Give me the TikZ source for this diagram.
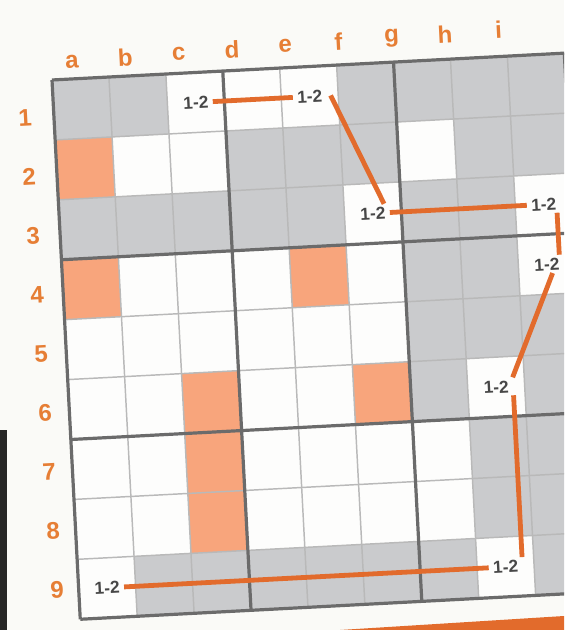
\documentclass[tikz,border=0pt]{standalone}
\usepackage{fontspec}
\setmainfont{Liberation Sans}
\usepackage{tikz}

\definecolor{cg}{HTML}{CACBCD}
\definecolor{cw}{HTML}{FDFDFC}
\definecolor{cs}{HTML}{F8A57C}
\definecolor{linkorange}{HTML}{E26B2C}
\definecolor{labelorange}{HTML}{E67E35}
\definecolor{paper}{HTML}{FAFAF7}

\begin{document}
\begin{tikzpicture}[x=0.75pt, y=-0.75pt,
  every node/.style={font=\bfseries},
  pairnote/.style={font=\fontsize{13}{13}\selectfont\bfseries, text=black!72, inner sep=2pt, minimum width=25pt, transform shape},
  chain/.style={linkorange, line width=3.6pt},
  thinrule/.style={gray!55, line width=1.1pt},
  boxrule/.style={black!58, line width=2.4pt},
  axislabel/.style={font=\fontsize{18}{18}\selectfont\bfseries, text=labelorange, rotate=3}]
	\useasboundingbox (0,0) rectangle (564,630);
	\clip (0,0) rectangle (564,630);
	\fill[paper] (0,0) rectangle (564,630);
	\begin{scope}[shift={(52,80)}, rotate=3, x=42.75pt, y=-45pt]
		\foreach \row [count=\r from 0] in {
			{g,g,w,w,w,g,g,g,g},
			{s,w,w,g,g,g,w,g,g},
			{g,g,g,g,g,w,g,g,w},
			{s,w,w,w,s,w,g,g,w},
			{w,w,w,w,w,w,g,g,g},
			{w,w,s,w,w,s,g,w,g},
			{w,w,s,w,w,w,w,g,g},
			{w,w,s,w,w,w,w,g,g},
			{w,g,g,g,g,g,g,w,g}}
			\foreach \c [count=\k from 0] in \row
				\fill[fill=c\c] (\k,\r) rectangle ++(1,1);
		\foreach \k in {1,2,4,5,7,8} {
			\draw[thinrule] (\k,0) -- (\k,9);
			\draw[thinrule] (0,\k) -- (9,\k);
		}
		\foreach \k in {0,3,6,9} {
			\draw[boxrule] (\k,0) -- (\k,9);
			\draw[boxrule] (0,\k) -- (9,\k);
		}
		\node[pairnote] (c1) at (2.5,0.5) {1-2};
		\node[pairnote] (e1) at (4.5,0.5) {1-2};
		\node[pairnote] (f3) at (5.5,2.5) {1-2};
		\node[pairnote] (i3) at (8.5,2.5) {1-2};
		\node[pairnote] (i4) at (8.5,3.5) {1-2};
		\node[pairnote] (h6) at (7.5,5.5) {1-2};
		\node[pairnote] (h9) at (7.5,8.5) {1-2};
		\node[pairnote] (a9) at (0.5,8.5) {1-2};
		\draw[chain] (c1) -- (e1);
		\draw[chain] ([xshift=3pt]e1.east) -- ([xshift=-4pt]f3.north east);
		\draw[chain] (f3) -- (i3);
		\draw[chain] ([xshift=-3pt]i3.south east) -- ([xshift=-3pt]i4.north east);
		\draw[chain] ([xshift=4pt]i4.south) -- (h6.north east);
		\draw[chain] (h6.south east) -- (h9.north east);
		\draw[chain] (a9) -- (h9);
	\end{scope}
	\foreach \l [count=\k from 0] in {a,...,i}
		\node[axislabel] (col\l) at (72+53.3*\k, 62-4*\k) {\l};
	\foreach \n in {1,...,9}
		\node[axislabel] (row\n) at (21+4*\n, 59+59*\n) {\n};
	\fill[black!85] (0,430) rectangle (7,630);
	\fill[linkorange] (340,630) -- (564,616) -- (564,630) -- cycle;
\end{tikzpicture}
\end{document}
